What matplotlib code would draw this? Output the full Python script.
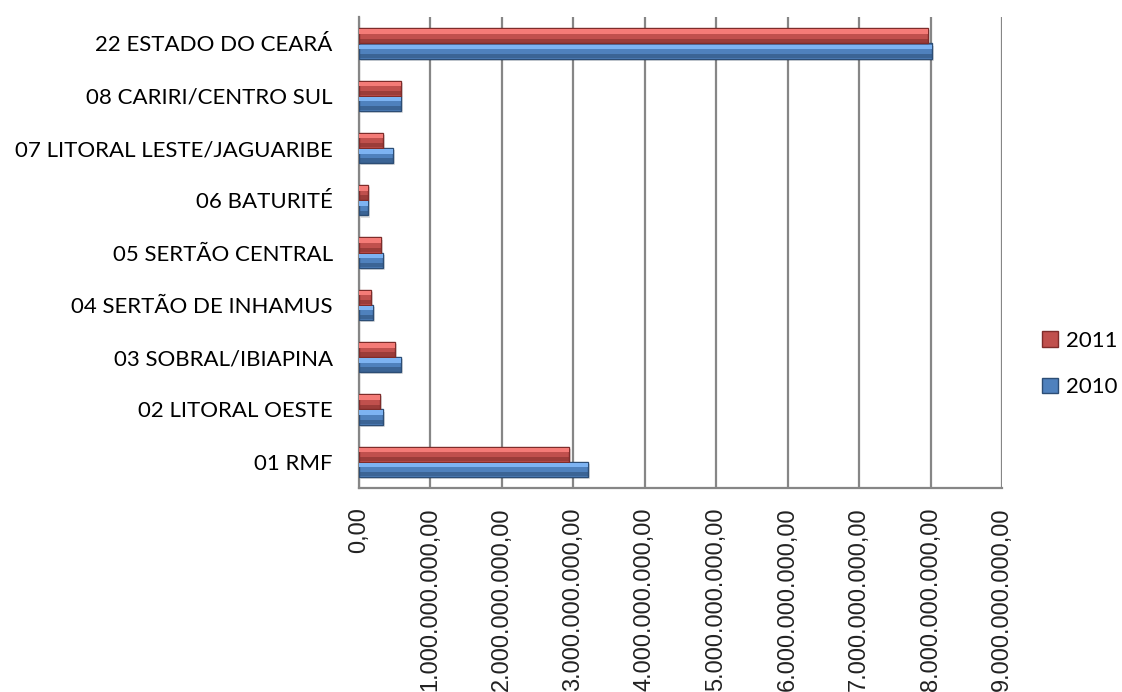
import numpy as np
import matplotlib.pyplot as plt
from matplotlib.patches import Patch

regioes = ["01 RMF", "02 LITORAL OESTE", "03 SOBRAL/IBIAPINA", "04 SERTÃO DE INHAMUS",
           "05 SERTÃO CENTRAL", "06 BATURITÉ", "07 LITORAL LESTE/JAGUARIBE",
           "08 CARIRI/CENTRO SUL", "22 ESTADO DO CEARÁ"]
valores_2010 = [3.20e9, 0.33e9, 0.59e9, 0.20e9, 0.34e9, 0.13e9, 0.47e9, 0.59e9, 8.02e9]
valores_2011 = [2.94e9, 0.29e9, 0.50e9, 0.17e9, 0.31e9, 0.13e9, 0.33e9, 0.59e9, 7.96e9]
ticks_x = [i * 1e9 for i in range(10)]
ticks_x_txt = ["0,00"] + ["%d.000.000.000,00" % i for i in range(1, 10)]

cores = {
    "2010": ("#4F81BD", "#7DB3F2", "#2C4D75"),
    "2011": ("#C0504D", "#F47B77", "#7E2C2A"),
}


def barra_bisel(ax, y, vals, h, cor):
    mid, light, dark = cor
    # sombra
    ax.barh(y - 0.04, vals, height=h, left=0.03e9, color="#000000", alpha=0.12, zorder=2)
    ax.barh(y, vals, height=h, color=mid, edgecolor=dark, linewidth=1.0, zorder=3)
    ax.barh(y + h * 0.28, vals, height=h * 0.3, color=light, zorder=4)
    ax.barh(y - h * 0.32, vals, height=h * 0.28, color=dark, alpha=0.55, zorder=4)


fig = plt.figure(figsize=(11.22, 6.92), dpi=100)
ax = fig.add_axes([0.32, 0.295, 0.573, 0.68])

y = np.arange(len(regioes))
h = 0.29
barra_bisel(ax, y - h / 2, valores_2010, h, cores["2010"])
barra_bisel(ax, y + h / 2, valores_2011, h, cores["2011"])

ax.set_xlim(0, 9e9)
ax.set_ylim(-0.5, len(regioes) - 0.5)
ax.set_xticks(ticks_x)
ax.set_xticklabels(ticks_x_txt, rotation=90, va="top", ha="center",
                   fontsize=17, family="Liberation Sans", color="#222222")
ax.set_yticks(y)
ax.set_yticklabels(regioes, fontsize=16, family="Lato")
ax.tick_params(axis="x", length=0, pad=14)
ax.tick_params(axis="y", length=0, pad=19)
ax.grid(axis="x", color="#868686", linewidth=1.6, zorder=0)
ax.set_axisbelow(True)
for s in ["top", "right"]:
    ax.spines[s].set_visible(False)
for s in ["left", "bottom"]:
    ax.spines[s].set_color("#868686")
    ax.spines[s].set_linewidth(1.6)

handles = [Patch(facecolor=cores["2011"][0], edgecolor=cores["2011"][2], label="2011"),
           Patch(facecolor=cores["2010"][0], edgecolor=cores["2010"][2], label="2010")]
fig.legend(handles=handles, loc="center left", bbox_to_anchor=(0.929, 0.474),
           frameon=False, prop={"family": "Lato", "size": 16}, borderpad=0, borderaxespad=0,
           handlelength=0.7, handleheight=0.7, handletextpad=0.35, labelspacing=1.2)

fig.savefig("out.png", dpi=100)
